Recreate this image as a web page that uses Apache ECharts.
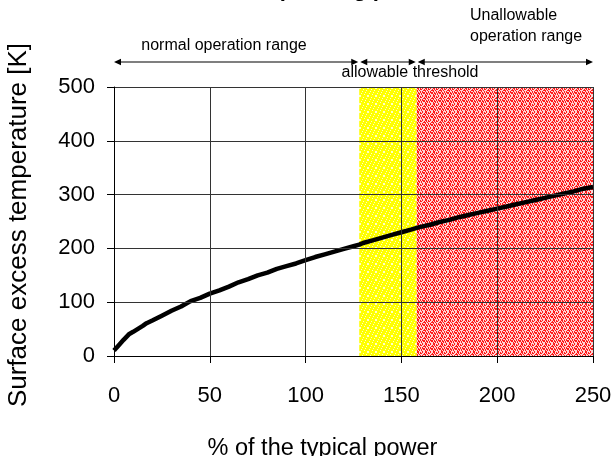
<!DOCTYPE html>
<html>
<head>
<meta charset="utf-8">
<script src="https://cdn.jsdelivr.net/npm/echarts@6/dist/echarts.min.js"></script>
<style>
html,body{margin:0;padding:0;background:#fff;}
#chart{width:613px;height:456px;}
</style>
</head>
<body>
<div id="chart"></div>
<script>
// ---- data ----
const powerPct = [0, 2.5, 5, 8, 10, 15, 17, 20, 25, 30, 35, 40, 45, 50, 55, 60, 65, 70, 75, 80, 85, 90, 95, 100,
  105, 110, 115, 120, 125, 128, 130, 135, 140, 145, 150, 155, 158, 160, 165, 170, 175, 180, 185, 190, 195,
  200, 205, 210, 215, 220, 225, 230, 235, 240, 245, 250];
const tempExcess = [10, 20, 30, 41, 45, 56, 61, 66, 75, 84, 92, 102, 108, 116, 122, 129, 137, 143, 150, 155, 162, 167, 172, 178,
  184, 189, 194, 199, 204, 207, 210, 215, 220, 225, 230, 235, 238, 240, 244, 249, 253, 258, 262, 266, 270,
  274, 278, 282, 286, 290, 294, 298, 302, 306, 311, 314];
const regionBounds = [0, 128, 158, 250]; // normal | allowable threshold | unallowable
const xTicks = [0, 50, 100, 150, 200, 250];
const yTicks = [0, 100, 200, 300, 400, 500];
const titleText = 'Surface heat at operating power';
const xName = '% of the typical power';
const yName = 'Surface excess temperature [K]';
const labels = ['normal operation range', 'allowable threshold', 'Unallowable\noperation range'];

const FONT = '"Liberation Sans", Arial, Helvetica, sans-serif';

function makePattern(base, light, test) {
  const c = document.createElement('canvas');
  c.width = 8; c.height = 8;
  const ctx = c.getContext('2d');
  for (let y = 0; y < 8; y++) {
    for (let x = 0; x < 8; x++) {
      ctx.fillStyle = test(x, y) ? light : base;
      ctx.fillRect(x, y, 1, 1);
    }
  }
  return c;
}
const yellowPat = makePattern('#ffff00', '#ffffc8', (x, y) => ((x * 3 + y * 5) % 7) === 0);
const redPat = makePattern('#ff1a1a', '#ffd4d4', (x, y) => ((x * 3 + y * 5) % 7) < 3 || ((x + y * 2) % 9) === 0);

const chart = echarts.init(document.getElementById('chart'), null, {renderer: 'canvas'});

const option = {
  animation: false,
  backgroundColor: '#fff',
  grid: {left: 114, right: 20, top: 87, bottom: 100, containLabel: false, outerBoundsMode: 'none'},
  xAxis: {
    type: 'value', min: xTicks[0], max: xTicks[xTicks.length - 1], interval: 50,
    z: 3,
    name: xName, nameLocation: 'middle', nameGap: 81,
    nameTextStyle: {fontFamily: FONT, fontSize: 23.5, color: '#000', padding: [0, 62, 0, 0]},
    axisLine: {show: true, onZero: false, lineStyle: {color: '#000', width: 1}},
    axisTick: {show: true, inside: false, length: 7, lineStyle: {color: '#000'}},
    axisLabel: {fontFamily: FONT, fontSize: 22, color: '#000', margin: 29},
    splitLine: {show: true, lineStyle: {color: '#333', width: 1}}
  },
  yAxis: {
    type: 'value', min: yTicks[0], max: yTicks[yTicks.length - 1], interval: 100,
    z: 3,
    name: yName, nameLocation: 'middle', nameGap: 82, nameRotate: 90,
    nameTextStyle: {fontFamily: FONT, fontSize: 26, color: '#000', padding: [0, 7, 0, 0]},
    axisLine: {show: true, lineStyle: {color: '#000', width: 1}},
    axisTick: {show: true, inside: false, length: 7, lineStyle: {color: '#000'}},
    axisLabel: {fontFamily: FONT, fontSize: 22, color: '#000', margin: 19},
    splitLine: {show: true, lineStyle: {color: '#333', width: 1}}
  },
  visualMap: {
    show: false, type: 'piecewise', dimension: 0, seriesIndex: 0,
    pieces: [
      {lt: regionBounds[1], color: '#000000'},
      {gte: regionBounds[1], lt: regionBounds[2], color: '#6e6e18'},
      {gte: regionBounds[2], color: '#620606'}
    ]
  },
  series: [{
    type: 'line',
    data: powerPct.map((p, i) => [p, tempExcess[i]]),
    showSymbol: false, symbol: 'none',
    lineStyle: {width: 4.5, color: '#000'},
    z: 2,
    markArea: {
      silent: true,
      data: [
        [{xAxis: regionBounds[1], yAxis: yTicks[0], itemStyle: {color: {image: yellowPat, repeat: 'repeat'}}},
         {xAxis: regionBounds[2], yAxis: yTicks[yTicks.length - 1]}],
        [{xAxis: regionBounds[2], yAxis: yTicks[0], itemStyle: {color: {image: redPat, repeat: 'repeat'}}},
         {xAxis: regionBounds[3], yAxis: yTicks[yTicks.length - 1]}]
      ]
    }
  }]
};
chart.setOption(option);

// ---- annotations (positions from the axis scale) ----
const px = v => chart.convertToPixel({xAxisIndex: 0}, v);
const arrowY = 62;
const elems = [];
function arrow(x1, x2) {
  const h = 7, w = 3.2;
  elems.push({type: 'line', shape: {x1: x1 + 2, y1: arrowY, x2: x2 - 2, y2: arrowY}, style: {stroke: '#000', lineWidth: 1.2}});
  elems.push({type: 'polygon', shape: {points: [[x1, arrowY], [x1 + h, arrowY - w], [x1 + h, arrowY + w]]}, style: {fill: '#000'}});
  elems.push({type: 'polygon', shape: {points: [[x2, arrowY], [x2 - h, arrowY - w], [x2 - h, arrowY + w]]}, style: {fill: '#000'}});
}
const b = regionBounds.map(px);
arrow(b[0], b[1] - 1);
arrow(b[1] + 1, b[2] - 1);
arrow(b[2] + 1, b[3]);

elems.push({type: 'text', style: {text: labels[0], x: 224, y: 46, textAlign: 'center', textVerticalAlign: 'middle', font: '16px ' + FONT, fill: '#000'}});
elems.push({type: 'text', style: {text: labels[1], x: 410, y: 73, textAlign: 'center', textVerticalAlign: 'middle', font: '16px ' + FONT, fill: '#000'}});
elems.push({type: 'text', style: {text: labels[2], x: 470, y: 26, textAlign: 'left', textVerticalAlign: 'middle', font: '16px ' + FONT, fill: '#000', lineHeight: 21}});
elems.push({type: 'text', style: {text: titleText, x: 270, y: 1, textAlign: 'center', textVerticalAlign: 'bottom', font: 'bold 22px ' + FONT, fill: '#000'}});

chart.setOption({graphic: {elements: elems}});
</script>
</body>
</html>
